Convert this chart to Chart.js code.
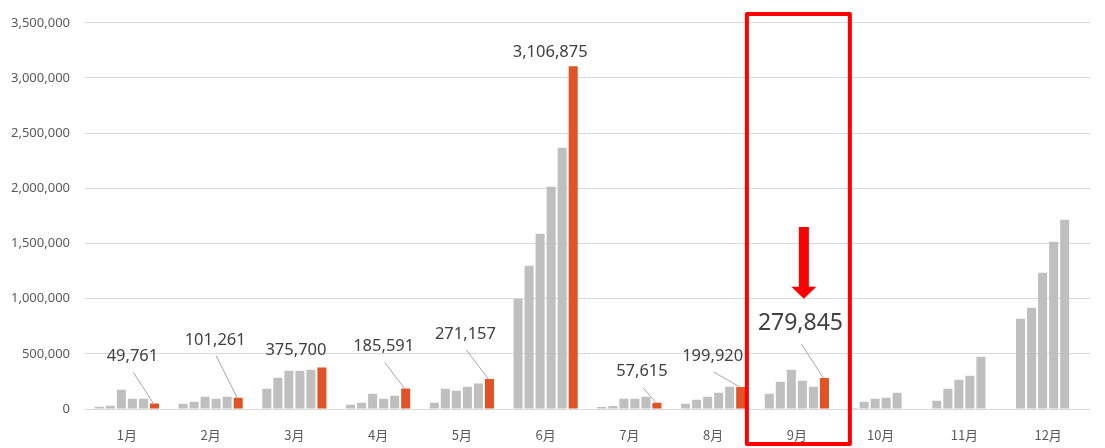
<!DOCTYPE html>
<html>
<head>
<meta charset="utf-8">
<script src="https://cdn.jsdelivr.net/npm/chart.js@4.4.0/dist/chart.umd.min.js"></script>
<style>
  html, body { margin: 0; padding: 0; background: #fff; }
  #wrap { width: 1105px; height: 448px; }
</style>
</head>
<body>
<div id="wrap"><canvas id="salesChart" width="1105" height="448"></canvas></div>
<script>
const months = ["1月", "2月", "3月", "4月", "5月", "6月", "7月", "8月", "9月", "10月", "11月", "12月"];

// five earlier years (gray) and the current year (orange)
const year1 = [21000, 48000, 184000, 39000, 57000, 996000, 18000, 48000, 139000, 9000, 75000, 818000];
const year2 = [30000, 66000, 284000, 57000, 184000, 1298000, 27000, 84000, 247000, 66000, 184000, 918000];
const year3 = [175000, 111000, 347000, 139000, 166000, 1588000, 93000, 111000, 356000, 93000, 265000, 1235000];
const year4 = [93000, 93000, 347000, 93000, 202000, 2014000, 93000, 148000, 256000, 102000, 302000, 1516000];
const year5 = [93000, 111000, 356000, 120000, 232000, 2367000, 111000, 202000, 202000, 148000, 474000, 1715000];
const current = [49761, 101261, 375700, 185591, 271157, 3106875, 57615, 199920, 279845, null, null, null];

const yTicks = [0, 500000, 1000000, 1500000, 2000000, 2500000, 3000000, 3500000];

// where each value label sits relative to the top of its orange bar, and whether it gets a leader line
const labelOffsets = [[-22, -47, true], [-23, -58, true], [-26, -17, false], [-22, -42, true], [-24, -45, true],
                      [-23, -14, false], [-15, -31, true], [-28, -31, true], [-24, -55, true]];
const highlightMonth = 8;

const gray = "#BFBFBF";
const orange = "#DF5327";

const annotations = {
    id: "annotations",
    afterDatasetsDraw(chart) {
        const ctx = chart.ctx;
        const meta = chart.getDatasetMeta(5);
        ctx.save();
        ctx.textAlign = "center";
        ctx.textBaseline = "middle";
        meta.data.forEach((bar, i) => {
            const v = current[i];
            if (v == null || !labelOffsets[i]) return;
            const [dx, dy, leader] = labelOffsets[i];
            const lx = bar.x + dx, ly = bar.y + dy;
            const big = i === highlightMonth;
            if (leader) {
                ctx.strokeStyle = "#A6A6A6";
                ctx.lineWidth = 1;
                ctx.beginPath();
                ctx.moveTo(lx + 1, ly + (big ? 21 : 16));
                ctx.lineTo(bar.x - 1, bar.y);
                ctx.stroke();
            }
            ctx.fillStyle = "#404040";
            ctx.font = (big ? "23px" : "16.5px") + " 'Noto Sans', sans-serif";
            ctx.fillText(v.toLocaleString("en-US"), lx, ly);
        });

        // red frame around the highlighted month
        const cx = chart.scales.x.getPixelForValue(highlightMonth);
        ctx.strokeStyle = "#FF0000";
        ctx.lineWidth = 4;
        ctx.lineJoin = "round";
        ctx.strokeRect(cx - 50, 14, 103, 430);

        // down arrow
        const ys = chart.scales.y;
        const ax = cx + 7;
        const top = ys.getPixelForValue(1650000);
        const tip = ys.getPixelForValue(1000000);
        ctx.fillStyle = "#FF0000";
        ctx.beginPath();
        ctx.moveTo(ax - 5, top);
        ctx.lineTo(ax + 5, top);
        ctx.lineTo(ax + 5, tip - 12);
        ctx.lineTo(ax + 12.5, tip - 12);
        ctx.lineTo(ax, tip);
        ctx.lineTo(ax - 12.5, tip - 12);
        ctx.lineTo(ax - 5, tip - 12);
        ctx.closePath();
        ctx.fill();
        ctx.restore();
    }
};

const series = [year1, year2, year3, year4, year5, current];

const chartConfig = {
    type: "bar",
    data: {
        labels: months,
        datasets: series.map((d, i) => ({
            label: i === 5 ? "今年" : "年" + (i + 1),
            data: d,
            backgroundColor: i === 5 ? orange : gray,
            categoryPercentage: 0.79,
            barPercentage: 0.82,
        })),
    },
    options: {
        responsive: false,
        animation: false,
        layout: { padding: { top: 22, right: 15, left: 0, bottom: 0 } },
        plugins: {
            legend: { display: false },
            tooltip: { enabled: false },
        },
        scales: {
            x: {
                grid: { display: false },
                border: { display: false },
                ticks: {
                    color: "#595959",
                    font: { size: 13, family: "'Noto Sans CJK JP', sans-serif" },
                    padding: 10,
                },
                afterFit(scale) { scale.height = 39; },
            },
            y: {
                min: 0,
                max: 3500000,
                afterBuildTicks(scale) { scale.ticks = yTicks.map(v => ({ value: v })); },
                grid: { color: "#D9D9D9", drawTicks: false },
                border: { display: false },
                ticks: {
                    color: "#595959",
                    font: { size: 13, family: "'Noto Sans', sans-serif" },
                    padding: 15,
                    callback: v => v.toLocaleString("en-US"),
                },
                afterFit(scale) { scale.width = 85; },
            },
        },
    },
    plugins: [annotations],
};

const salesChart = new Chart(document.getElementById("salesChart"), chartConfig);
</script>
</body>
</html>
